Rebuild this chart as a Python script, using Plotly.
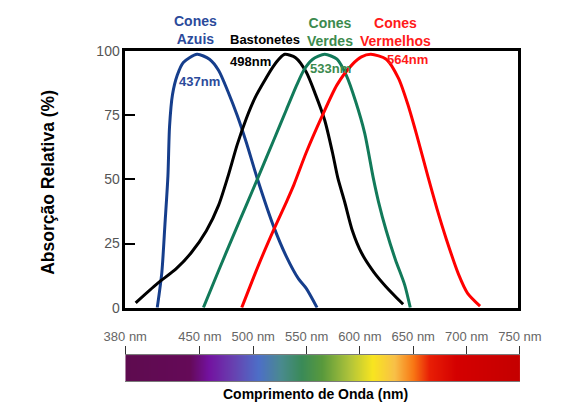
import plotly.graph_objects as go

# --- absorption curves: wavelength (nm) vs relative absorption (%) ---
blue_nm = [406.5, 409.9, 412.2, 414.4, 415.6, 417.8, 421.3, 425.8, 436.0, 445.2,
           452.0, 458.8, 465.7, 472.5, 480.5, 493.0, 502.1, 511.2, 516.9, 524.9]
blue_pct = [0.0, 13.8, 32.5, 51.3, 70.6, 83.1, 90.6, 95.6, 98.8, 96.9,
            92.5, 84.4, 75.0, 64.4, 50.6, 31.3, 20.0, 11.2, 7.5, 0.0]

rod_nm = [390.5, 406.5, 420.2, 431.5, 442.9, 452.0, 458.8, 465.7, 472.5, 479.1,
          485.9, 492.0, 497.5, 501.1, 509.0, 516.9, 523.8, 530.6, 536.3, 540.3,
          545.4, 551.1, 557.9, 567.1, 576.2, 588.7]
rod_pct = [1.9, 9.4, 15.0, 21.3, 30.0, 40.0, 51.0, 63.5, 73.8, 82.0,
           88.4, 93.7, 97.4, 98.8, 97.5, 91.9, 83.1, 73.1, 60.6, 50.6,
           41.2, 30.0, 21.3, 13.8, 8.1, 1.3]

green_nm = [440.7, 452.0, 463.4, 472.5, 481.7, 493.0, 502.1, 509.9, 515.4, 521.5,
            530.6, 539.7, 546.6, 553.4, 560.2, 566.6, 570.5, 576.2, 583.0, 589.9, 594.0]
green_pct = [0.0, 14.5, 28.8, 40.0, 51.4, 65.6, 77.1, 86.9, 92.9, 96.8,
             98.8, 96.9, 90.6, 80.6, 68.1, 50.5, 41.2, 30.0, 18.7, 8.8, 0.0]

red_nm = [469.1, 481.7, 493.0, 502.1, 507.8, 516.9, 528.3, 539.7, 551.1, 557.8,
          564.8, 576.2, 585.3, 592.1, 599.0, 607.0, 613.8, 620.6, 629.7, 636.5, 645.7]
red_pct = [0.0, 16.8, 30.6, 41.1, 48.0, 60.5, 74.3, 86.9, 94.9, 97.8,
           98.8, 96.9, 89.4, 79.4, 66.9, 51.3, 38.5, 26.9, 13.1, 5.6, 0.6]

y_ticks = [0, 25, 50, 75, 100]

# --- visible spectrum strip ---
spectrum_nm = [380, 440, 458, 480, 505, 525, 545, 565, 590, 612, 632, 650, 665, 690, 750]
spectrum_colors = ["#5e0b4f", "#650a58", "#7312a0", "#6840b0", "#4d6fc8", "#4a8a90",
                   "#3a8a58", "#5a9a3c", "#b0c43a", "#f8e520", "#f8c048", "#f87514",
                   "#e81e05", "#d40000", "#c40000"]
spectrum_ticks = [380, 450, 500, 550, 600, 650, 700, 750]
spectrum_ticktext = ["380 nm", "450 nm", "500 nm", "550 nm", "600 nm", "650 nm", "700 nm", "750 nm"]

FONT = "Liberation Sans, Arial, sans-serif"

fig = go.Figure()

curves = [
    (blue_nm, blue_pct, "#163e8c"),
    (rod_nm, rod_pct, "#000000"),
    (green_nm, green_pct, "#127a5a"),
    (red_nm, red_pct, "#ff0000"),
]
for xs, ys, col in curves:
    fig.add_trace(go.Scatter(
        x=xs, y=ys, mode="lines",
        line=dict(color=col, width=3, shape="spline", smoothing=0.7),
        hoverinfo="skip", showlegend=False, cliponaxis=True,
    ))

lo, hi = spectrum_nm[0], spectrum_nm[-1]
colorscale = [[(w - lo) / (hi - lo), c] for w, c in zip(spectrum_nm, spectrum_colors)]
fig.add_trace(go.Heatmap(
    x=spectrum_nm, y=[0, 1], z=[spectrum_nm, spectrum_nm],
    colorscale=colorscale, zmin=lo, zmax=hi, zsmooth="best",
    showscale=False, hoverinfo="skip", xaxis="x2", yaxis="y2",
))

W, H = 565, 414

def px_x(p):
    return p / W

def px_y(p):
    return 1 - p / H

fig.update_layout(
    width=W, height=H, autosize=False,
    margin=dict(l=0, r=0, t=0, b=0),
    paper_bgcolor="white", plot_bgcolor="white",
    font=dict(family=FONT),
    xaxis=dict(
        domain=[px_x(112), px_x(538)], range=[382.8, 673.9],
        showticklabels=False, ticks="", showgrid=False, zeroline=False,
        showline=True, mirror=True, linecolor="black", linewidth=2.5,
    ),
    yaxis=dict(
        domain=[px_y(311.7), px_y(45)], range=[0, 100],
        tickvals=y_ticks, ticks="inside", ticklen=10, tickwidth=2, tickcolor="black",
        tickfont=dict(size=14, color="#555555", family=FONT),
        showgrid=False, zeroline=False,
        showline=True, mirror=True, linecolor="black", linewidth=2.5,
    ),
    xaxis2=dict(
        domain=[px_x(112), px_x(540)], range=[380, 750], anchor="y2", side="top",
        tickvals=spectrum_ticks, ticktext=spectrum_ticktext,
        ticks="outside", ticklen=8, tickwidth=1, tickcolor="#333333",
        tickfont=dict(size=13, color="#666666", family=FONT),
        showgrid=False, zeroline=False,
        showline=True, mirror=True, linecolor="#7a7a7a", linewidth=1,
    ),
    yaxis2=dict(
        domain=[px_y(388), px_y(361)], range=[0, 1], anchor="x2",
        showticklabels=False, ticks="", showgrid=False, zeroline=False,
        showline=False,
    ),
)

# receptor names above the frame (paper coordinates)
headers = [
    ("<b>Cones<br>Azuis</b>", 188, 23, "#2b4a9b", 14),
    ("<b>Bastonetes</b>", 263, 32.7, "#000000", 13),
    ("<b>Cones<br>Verdes</b>", 334, 24.5, "#3c8a4e", 14),
    ("<b>Cones<br>Vermelhos</b>", 405, 24.5, "#ff1a1a", 14),
]
for text, x, y, col, size in headers:
    fig.add_annotation(
        x=px_x(x), y=px_y(y), xref="paper", yref="paper", text=text, showarrow=False,
        font=dict(size=size, color=col, family=FONT),
        xanchor="center", yanchor="middle",
    )

# peak wavelength labels (data coordinates)
peaks = [
    ("<b>437nm</b>", 438.1, 88.1, "#2b4a9b"),
    ("<b>498nm</b>", 475.7, 95.9, "#000000"),
    ("<b>533nm</b>", 535.1, 93.4, "#3c8a4e"),
    ("<b>564nm</b>", 591.9, 96.9, "#ff1a1a"),
]
for text, x, y, col in peaks:
    fig.add_annotation(
        x=x, y=y, xref="x", yref="y", text=text, showarrow=False,
        font=dict(size=13, color=col, family=FONT),
        xanchor="center", yanchor="middle",
    )

fig.add_annotation(
    x=px_x(28.5), y=px_y(181.5), xref="paper", yref="paper",
    text="<b>Absorção Relativa (%)</b>", textangle=-90, showarrow=False,
    font=dict(size=17.5, color="black", family=FONT),
    xanchor="center", yanchor="middle",
)
fig.add_annotation(
    x=px_x(318), y=px_y(402), xref="paper", yref="paper",
    text="<b>Comprimento de Onda (nm)</b>", showarrow=False,
    font=dict(size=14, color="black", family=FONT),
    xanchor="center", yanchor="middle",
)

fig.write_html("out.html")
